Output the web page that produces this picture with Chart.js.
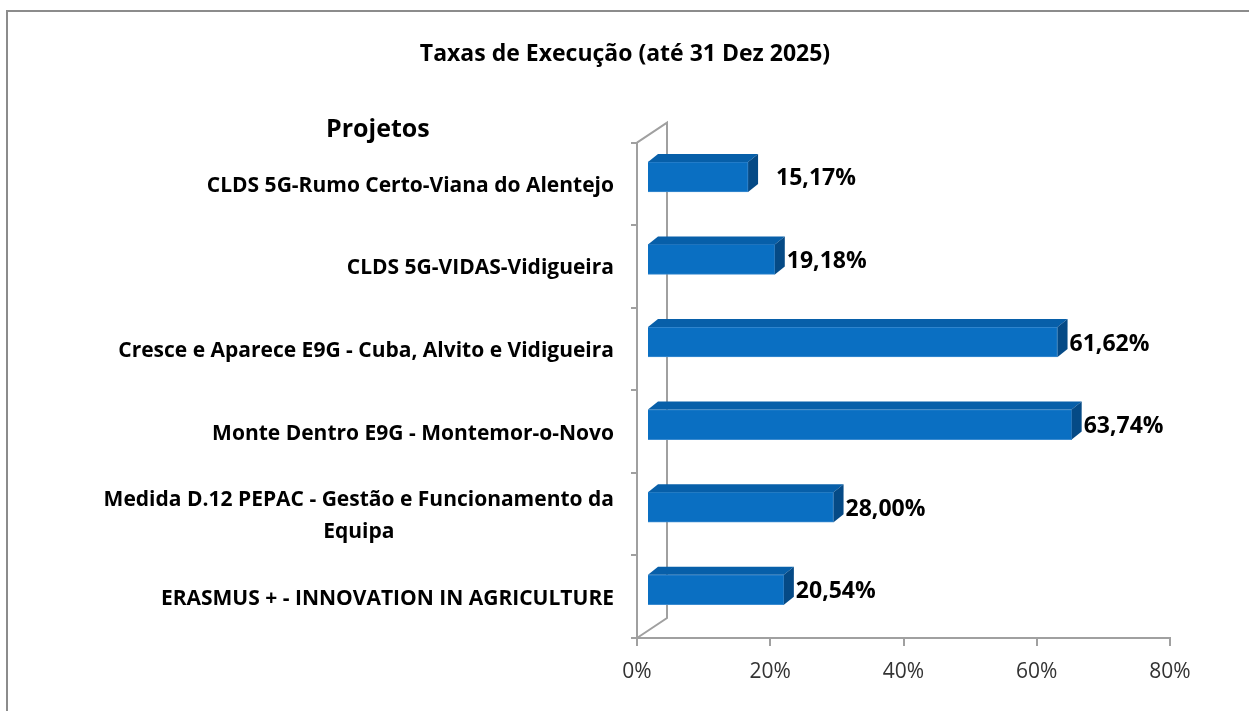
<!DOCTYPE html>
<html>
<head>
<meta charset="utf-8">
<script src="https://cdn.jsdelivr.net/npm/chart.js@4.4.1/dist/chart.umd.min.js"></script>
<style>
  html, body { margin: 0; padding: 0; background: #fff; }
  #wrap { position: relative; width: 1249px; height: 711px; overflow: hidden; }
  #frame { position: absolute; left: 6px; top: 10px; width: 1300px; height: 800px;
           border: 2px solid #8c8c8c; box-sizing: border-box; }
  canvas { position: absolute; left: 0; top: 0; }
</style>
</head>
<body>
<div id="wrap">
  <div id="frame"></div>
  <canvas id="barChart" width="1249" height="711"></canvas>
</div>
<script>
  // data
  var projetos = [
    ['CLDS 5G-Rumo Certo-Viana do Alentejo'],
    ['CLDS 5G-VIDAS-Vidigueira'],
    ['Cresce e Aparece E9G - Cuba, Alvito e Vidigueira'],
    ['Monte Dentro E9G - Montemor-o-Novo'],
    ['Medida D.12 PEPAC - Gestão e Funcionamento da', 'Equipa'],
    ['ERASMUS + - INNOVATION IN AGRICULTURE']
  ];
  var taxas = [15.17, 19.18, 61.62, 63.74, 28.00, 20.54];
  var eixoTicks = [0, 20, 40, 60, 80];

  var FONT = '"Open Sans", "DejaVu Sans", sans-serif';
  var GREY = '#a0a0a0';
  var DX = 10, DY = 8;          // bar depth
  var SHIFT_X = 10, SHIFT_Y = -7; // bars sit a bit behind the front plane

  function fmt(v) {
    return v.toFixed(2).replace('.', ',') + '%';
  }

  var efeito3d = {
    id: 'efeito3d',
    beforeDraw: function(chart) {
      var ctx = chart.ctx, a = chart.chartArea;
      ctx.save();
      ctx.strokeStyle = GREY;
      ctx.lineWidth = 2;
      ctx.beginPath();
      ctx.moveTo(a.left, a.top);
      ctx.lineTo(a.left + 30, a.top - 20);
      ctx.lineTo(a.left + 30, a.bottom - 20);
      ctx.lineTo(a.left, a.bottom);
      ctx.stroke();
      ctx.restore();

      // "Projetos" heading + category labels
      ctx.save();
      ctx.fillStyle = '#000';
      ctx.textBaseline = 'middle';
      ctx.font = 'bold 25px ' + FONT;
      ctx.textAlign = 'left';
      ctx.fillText('Projetos', 326, 130);
      ctx.font = 'bold 21px ' + FONT;
      ctx.textAlign = 'center';
      var ys = chart.scales.y;
      projetos.forEach(function(linhas, i) {
        var cy = ys.getPixelForValue(i) + 2;
        var w = 0;
        linhas.forEach(function(t) { w = Math.max(w, ctx.measureText(t).width); });
        var cx = 614 - w / 2;
        var lh = 32;
        var y0 = cy - (linhas.length - 1) * lh / 2;
        linhas.forEach(function(t, k) { ctx.fillText(t, cx, y0 + k * lh); });
      });
      ctx.restore();
    },
    beforeDatasetsDraw: function(chart) {
      chart.ctx.save();
      chart.ctx.translate(SHIFT_X, SHIFT_Y);
    },
    afterDatasetsDraw: function(chart) {
      var ctx = chart.ctx;
      var meta = chart.getDatasetMeta(0);
      meta.data.forEach(function(bar) {
        var p = bar.getProps(['x', 'y', 'base', 'height'], true);
        var top = p.y - p.height / 2, bot = p.y + p.height / 2;
        ctx.fillStyle = '#075fa9';
        ctx.beginPath();
        ctx.moveTo(p.base, top);
        ctx.lineTo(p.x, top);
        ctx.lineTo(p.x + DX, top - DY);
        ctx.lineTo(p.base + DX, top - DY);
        ctx.closePath();
        ctx.fill();
        ctx.fillStyle = '#054a86';
        ctx.beginPath();
        ctx.moveTo(p.x, top);
        ctx.lineTo(p.x + DX, top - DY);
        ctx.lineTo(p.x + DX, bot - DY);
        ctx.lineTo(p.x, bot);
        ctx.closePath();
        ctx.fill();
      });
      ctx.restore();

      // value labels
      ctx.save();
      ctx.font = 'bold 23px ' + FONT;
      ctx.fillStyle = '#000';
      ctx.textAlign = 'left';
      ctx.textBaseline = 'middle';
      meta.data.forEach(function(bar, i) {
        var extra = i === 0 ? 16 : 0;
        ctx.fillText(fmt(taxas[i]), bar.x + SHIFT_X + 12 + extra, bar.y + SHIFT_Y + 2);
      });
      ctx.restore();
    }
  };

  var canvas = document.getElementById('barChart');
  new Chart(canvas, {
    type: 'bar',
    data: {
      labels: projetos.map(function(l) { return l.join(' '); }),
      datasets: [{
        data: taxas,
        backgroundColor: '#0a6fc2',
        borderColor: '#3b8bd0',
        borderWidth: 1,
        barThickness: 30
      }]
    },
    options: {
      indexAxis: 'y',
      responsive: false,
      animation: false,
      layout: { padding: { left: 80, right: 79, top: 0, bottom: 0 } },
      plugins: {
        legend: { display: false },
        tooltip: { enabled: false },
        title: {
          display: true,
          text: 'Taxas de Execução (até 31 Dez 2025)',
          color: '#000',
          font: { family: FONT, size: 23, weight: 'bold' },
          padding: { top: 41, bottom: 74 }
        }
      },
      scales: {
        x: {
          min: 0,
          max: 80,
          afterBuildTicks: function(s) {
            s.ticks = eixoTicks.map(function(v) { return { value: v }; });
          },
          afterFit: function(s) { s.height = 73; },
          ticks: {
            color: '#333',
            padding: 13,
            font: { family: FONT, size: 21 },
            callback: function(v) { return v + '%'; }
          },
          grid: { drawOnChartArea: false, tickLength: 8, color: GREY, lineWidth: 2 },
          border: { color: GREY, width: 2 }
        },
        y: {
          afterFit: function(s) { s.width = 557; },
          ticks: { display: false },
          grid: { drawOnChartArea: false, offset: true, tickLength: 6, color: GREY, lineWidth: 2 },
          border: { color: GREY, width: 2 }
        }
      }
    },
    plugins: [efeito3d]
  });
</script>
</body>
</html>
